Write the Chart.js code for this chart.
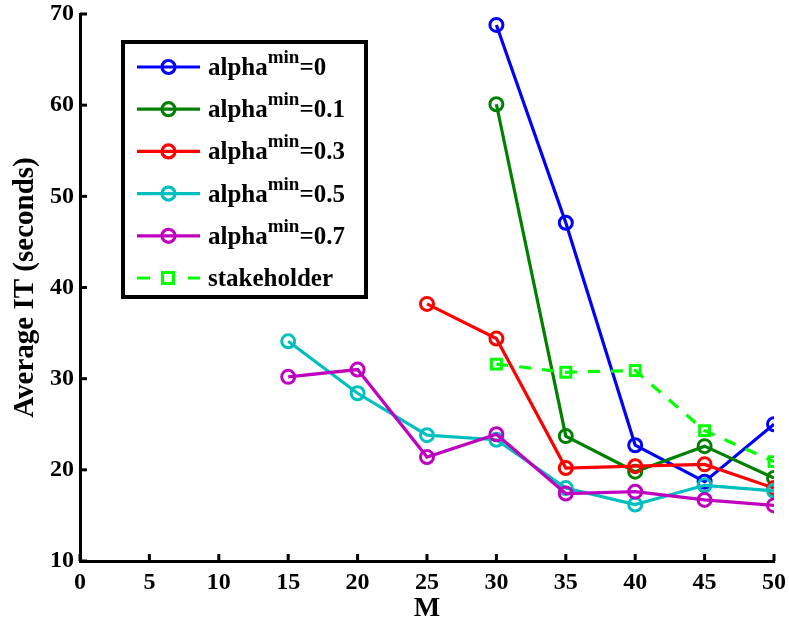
<!DOCTYPE html>
<html>
<head>
<meta charset="utf-8">
<script src="https://cdn.jsdelivr.net/npm/chart.js@4/dist/chart.umd.min.js"></script>
<style>
  html, body { margin: 0; padding: 0; background: #fff; }
  #wrap { width: 789px; height: 628px; }
</style>
</head>
<body>
<div id="wrap"><canvas id="itChart" width="789" height="628"></canvas></div>
<script>
// Значения M (ось X)
const mValues = [15, 20, 25, 30, 35, 40, 45, 50];

// Average IT для каждого alpha^min (null = нет точки)
const alpha0   = [null, null, null, 68.8, 47.1, 22.7, 18.7, 25.0];
const alpha01  = [null, null, null, 60.1, 23.7, 19.8, 22.6, 19.1];
const alpha03  = [null, null, 38.2, 34.4, 20.2, 20.4, 20.6, 18.0];
const alpha05  = [34.1, 28.4, 23.8, 23.3, 18.0, 16.2, 18.3, 17.7];
const alpha07  = [30.2, 31.0, 21.4, 23.9, 17.4, 17.6, 16.7, 16.1];
const stakeholder = [null, null, null, 31.6, 30.7, 30.9, 24.3, 20.9];

const alphaLabels = ['0', '0.1', '0.3', '0.5', '0.7'];
const xTicks = [0, 5, 10, 15, 20, 25, 30, 35, 40, 45, 50];
const yTicks = [10, 20, 30, 40, 50, 60, 70];

const FONT = '"Liberation Serif", "Times New Roman", serif';

function toPoints(values) {
    return mValues.map((m, i) => ({ x: m, y: values[i] }));
}

function lineSet(label, values, color, idx) {
    return {
        label: label,
        data: toPoints(values),
        borderColor: color,
        backgroundColor: color,
        borderWidth: 3.2,
        pointStyle: 'circle',
        pointRadius: 6.5,
        pointBorderWidth: 3,
        pointBackgroundColor: 'rgba(0,0,0,0)',
        pointBorderColor: color,
        tension: 0,
        order: 5 - idx
    };
}

const datasets = [
    lineSet('alpha0', alpha0, '#0000ff', 0),
    lineSet('alpha0.1', alpha01, '#008000', 1),
    lineSet('alpha0.3', alpha03, '#ff0000', 2),
    lineSet('alpha0.5', alpha05, '#00bfbf', 3),
    lineSet('alpha0.7', alpha07, '#bf00bf', 4),
    {
        label: 'stakeholder',
        data: toPoints(stakeholder),
        borderColor: '#00ff00',
        backgroundColor: '#00ff00',
        borderWidth: 3.2,
        borderDash: [12, 11],
        pointStyle: 'rect',
        pointRadius: 7,
        pointBorderWidth: 3,
        pointBackgroundColor: 'rgba(0,0,0,0)',
        pointBorderColor: '#00ff00',
        tension: 0,
        order: 0
    }
];

// Внутренние засечки на осях
const innerTicks = {
    id: 'innerTicks',
    afterDraw(chart) {
        const ctx = chart.ctx;
        const xs = chart.scales.x, ys = chart.scales.y;
        const area = chart.chartArea;
        ctx.save();
        ctx.strokeStyle = '#000';
        ctx.lineWidth = 3;
        xTicks.forEach(v => {
            const px = xs.getPixelForValue(v);
            ctx.beginPath();
            ctx.moveTo(px, area.bottom);
            ctx.lineTo(px, area.bottom - 7);
            ctx.stroke();
        });
        yTicks.forEach(v => {
            const py = ys.getPixelForValue(v);
            ctx.beginPath();
            ctx.moveTo(area.left, py);
            ctx.lineTo(area.left + 7, py);
            ctx.stroke();
        });
        ctx.restore();
    }
};

// Легенда с верхним индексом "min"
const matlabLegend = {
    id: 'matlabLegend',
    afterDraw(chart) {
        const ctx = chart.ctx;
        const bx = 123, by = 42, bw = 243, bh = 255;
        ctx.save();
        ctx.fillStyle = '#fff';
        ctx.fillRect(bx, by, bw, bh);
        ctx.strokeStyle = '#000';
        ctx.lineWidth = 4;
        ctx.strokeRect(bx, by, bw, bh);

        const rowY0 = 67, rowGap = 42.2;
        chart.data.datasets.forEach((ds, i) => {
            const y = rowY0 + i * rowGap;
            ctx.strokeStyle = ds.borderColor;
            ctx.lineWidth = 3.2;
            ctx.beginPath();
            if (ds.borderDash) {
                ctx.moveTo(137, y); ctx.lineTo(150, y);
                ctx.moveTo(188, y); ctx.lineTo(200, y);
            } else {
                ctx.moveTo(137, y); ctx.lineTo(200, y);
            }
            ctx.stroke();
            ctx.beginPath();
            if (ds.pointStyle === 'rect') {
                ctx.rect(162.5, y - 5.5, 11, 11);
            } else {
                ctx.arc(168.5, y, 6.5, 0, Math.PI * 2);
            }
            ctx.stroke();

            ctx.fillStyle = '#000';
            ctx.textBaseline = 'alphabetic';
            ctx.textAlign = 'left';
            let tx = 208;
            const base = y + 8;
            if (i < alphaLabels.length) {
                ctx.font = 'bold 25px ' + FONT;
                ctx.fillText('alpha', tx, base);
                tx += ctx.measureText('alpha').width;
                ctx.font = 'bold 19px ' + FONT;
                ctx.fillText('min', tx, base - 12);
                tx += ctx.measureText('min').width;
                ctx.font = 'bold 25px ' + FONT;
                ctx.fillText('=' + alphaLabels[i], tx, base);
            } else {
                ctx.font = 'bold 25px ' + FONT;
                ctx.fillText('stakeholder', tx, base);
            }
        });
        ctx.restore();
    }
};

window.onload = function() {
    const ctx = document.getElementById('itChart').getContext('2d');
    new Chart(ctx, {
        type: 'line',
        data: { datasets: datasets },
        options: {
            responsive: false,
            animation: false,
            spanGaps: false,
            layout: { padding: { top: 14, right: 15, left: 0, bottom: 0 } },
            plugins: {
                legend: { display: false },
                tooltip: { enabled: false }
            },
            scales: {
                x: {
                    type: 'linear',
                    min: 0,
                    max: 50,
                    afterBuildTicks: (s) => { s.ticks = xTicks.map(v => ({ value: v })); },
                    afterFit: (s) => { s.height = 67; s.paddingLeft = 0; s.paddingRight = 0; },
                    grid: { drawOnChartArea: false, drawTicks: false },
                    border: { display: true, color: '#000', width: 3 },
                    ticks: {
                        color: '#000',
                        padding: 7,
                        maxRotation: 0,
                        font: { family: FONT, size: 24, weight: 'bold' }
                    },
                    title: {
                        display: true,
                        text: 'M',
                        color: '#000',
                        padding: { top: 0, bottom: 2 },
                        font: { family: FONT, size: 28, weight: 'bold' }
                    }
                },
                y: {
                    type: 'linear',
                    min: 10,
                    max: 70,
                    afterBuildTicks: (s) => { s.ticks = yTicks.map(v => ({ value: v })); },
                    afterFit: (s) => { s.width = 80; s.paddingTop = 0; s.paddingBottom = 0; },
                    grid: { drawOnChartArea: false, drawTicks: false },
                    border: { display: true, color: '#000', width: 3 },
                    ticks: {
                        color: '#000',
                        padding: 6,
                        font: { family: FONT, size: 24, weight: 'bold' }
                    },
                    title: {
                        display: true,
                        text: 'Average IT (seconds)',
                        color: '#000',
                        padding: { top: 8, bottom: 0 },
                        font: { family: FONT, size: 29, weight: 'bold' }
                    }
                }
            }
        },
        plugins: [innerTicks, matlabLegend]
    });
};
</script>
</body>
</html>
